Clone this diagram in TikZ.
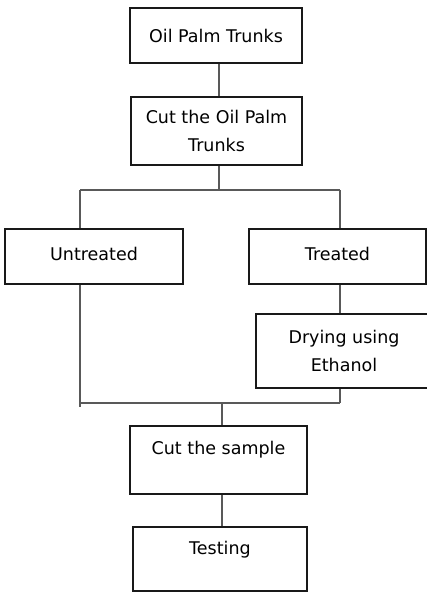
\documentclass[tikz,border=0pt]{standalone}
\usepackage{fontspec}
\setmainfont{DejaVu Sans}
\begin{document}
\begin{tikzpicture}[x=1pt,y=1pt,
  box/.style={draw=black!90, line width=2.7pt, rectangle, inner sep=0pt, align=center,
    text=black, font=\fontsize{17.5}{28}\selectfont},
  conn/.style={draw=black!65, line width=1.2pt}]
\useasboundingbox (0,0) rectangle (427,-592);
\fill[white] (0,0) rectangle (427,-592);
% boxes
\node[box, minimum width=172pt, minimum height=55pt] (oil) at (216,-35.5) {Oil Palm Trunks};
\node[box, minimum width=171pt, minimum height=68pt] (cutoil) at (216.5,-131) {Cut the Oil Palm\\Trunks};
\node[box, minimum width=178pt, minimum height=55pt] (untr) at (94,-256.5) {\raisebox{3pt}[\height][\depth]{Untreated}};
\node[box, minimum width=177pt, minimum height=55pt] (tr) at (337.5,-256.5) {\raisebox{3pt}[\height][\depth]{Treated}};
\node[box, minimum width=176pt, minimum height=74pt] (dry) at (344,-351) {Drying using\\Ethanol};
\node[box, minimum width=177pt, minimum height=68pt] (cuts) at (218.5,-460) {\raisebox{10pt}[\height][\depth]{Cut the sample}};
\node[box, minimum width=174pt, minimum height=64pt] (test) at (220,-559) {\raisebox{9pt}[\height][\depth]{Testing}};
% junction coordinates
\coordinate (j1) at (219,-190);
\coordinate (jl) at (80,-190);
\coordinate (jr) at (340,-190);
\coordinate (bl) at (80,-403);
\coordinate (bl2) at (80,-407);
\coordinate (br) at (340,-403);
\coordinate (bm) at (222,-403);
% connectors
\draw[conn] (oil.south -| j1) -- (cutoil.north -| j1);
\draw[conn] (cutoil.south -| j1) -- (j1);
\draw[conn] (jl) -- (jr);
\draw[conn] (jl) -- (untr.north -| jl);
\draw[conn] (jr) -- (tr.north -| jr);
\draw[conn] (tr.south -| jr) -- (dry.north -| jr);
\draw[conn] (untr.south -| bl) -- (bl2);
\draw[conn] (dry.south -| br) -- (br);
\draw[conn] (bl) -- (br);
\draw[conn] (bm) -- (cuts.north -| bm);
\draw[conn] (cuts.south -| bm) -- (test.north -| bm);
\end{tikzpicture}
\end{document}
